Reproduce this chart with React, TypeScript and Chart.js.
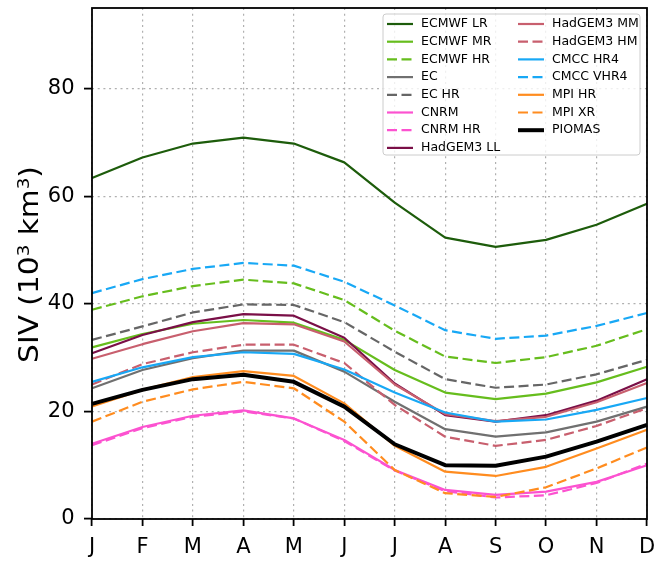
import React, { useEffect, useRef } from 'react';
import { Chart, registerables } from 'chart.js';

Chart.register(...registerables);

const months = ['J', 'F', 'M', 'A', 'M', 'J', 'J', 'A', 'S', 'O', 'N', 'D'];
const yTickValues = [0, 20, 40, 60, 80];
const yMin = 0;
const yMax = 95;

const ecmwfLR = [63.4, 67.2, 69.8, 70.9, 69.8, 66.3, 58.8, 52.3, 50.6, 51.9, 54.7, 58.6];
const ecmwfMR = [31.9, 34.4, 36.3, 37.0, 36.5, 33.3, 27.7, 23.5, 22.3, 23.3, 25.4, 28.3];
const ecmwfHR = [38.9, 41.4, 43.3, 44.5, 43.8, 40.7, 35.0, 30.2, 29.0, 30.1, 32.2, 35.3];
const ec = [24.3, 27.7, 29.9, 31.3, 31.3, 27.4, 21.8, 16.7, 15.3, 16.1, 18.1, 20.9];
const ecHR = [33.3, 35.8, 38.4, 39.9, 39.8, 36.6, 31.1, 26.0, 24.4, 25.0, 26.9, 29.6];
const cnrm = [14.0, 17.1, 19.2, 20.2, 18.7, 14.7, 9.1, 5.4, 4.5, 5.1, 6.9, 10.0];
const cnrmHR = [13.7, 16.9, 19.0, 20.0, 18.7, 14.5, 9.0, 5.2, 4.0, 4.4, 6.7, 10.3];
const hadgemLL = [30.8, 34.2, 36.6, 38.1, 37.8, 33.7, 25.2, 19.3, 18.1, 19.3, 22.0, 26.0];
const hadgemMM = [29.8, 32.5, 34.9, 36.4, 36.2, 33.0, 25.0, 19.5, 18.2, 19.0, 21.7, 25.3];
const hadgemHM = [25.0, 28.8, 31.0, 32.4, 32.4, 29.0, 21.2, 15.3, 13.6, 14.7, 17.3, 20.6];
const cmccHR4 = [25.5, 28.2, 30.1, 31.0, 30.7, 27.8, 23.5, 19.8, 18.1, 18.5, 20.3, 22.5];
const cmccVHR4 = [42.0, 44.6, 46.5, 47.6, 47.1, 44.1, 39.7, 35.1, 33.5, 34.1, 35.9, 38.3];
const mpiHR = [20.9, 24.0, 26.4, 27.5, 26.6, 21.5, 13.6, 8.8, 8.0, 9.7, 13.1, 16.6];
const mpiXR = [18.1, 21.8, 24.1, 25.5, 24.3, 18.1, 9.1, 4.8, 4.1, 5.9, 9.4, 13.3];
const piomas = [21.4, 24.0, 26.0, 26.8, 25.5, 20.9, 13.9, 10.0, 9.9, 11.6, 14.4, 17.5];

const seriesNames = [
  'ECMWF LR', 'ECMWF MR', 'ECMWF HR', 'EC', 'EC HR', 'CNRM', 'CNRM HR', 'HadGEM3 LL',
  'HadGEM3 MM', 'HadGEM3 HM', 'CMCC HR4', 'CMCC VHR4', 'MPI HR', 'MPI XR', 'PIOMAS',
];
const seriesValues = [
  ecmwfLR, ecmwfMR, ecmwfHR, ec, ecHR, cnrm, cnrmHR, hadgemLL,
  hadgemMM, hadgemHM, cmccHR4, cmccVHR4, mpiHR, mpiXR, piomas,
];

const seriesColors = [
  '#1d5c0b', '#66bd1d', '#66bd1d', '#707070', '#666666', '#fc52d0', '#fc52d0', '#7a0f47',
  '#c85f6e', '#c85f6e', '#18a8f5', '#18a8f5', '#ff8c1f', '#ff8c1f', '#000000',
];
const seriesDashed = [
  false, false, true, false, true, false, true, false,
  false, true, false, true, false, true, false,
];
const seriesWidths = [2.2, 2.2, 2.2, 2.2, 2.2, 2.2, 2.2, 2.2, 2.2, 2.2, 2.2, 2.2, 2.2, 2.2, 4];

const DASH = [10, 4.5];
const FONT = '"DejaVu Sans", sans-serif';

const extrasPlugin = {
  id: 'extras',
  afterDatasetsDraw(chart: any) {
    const { ctx, chartArea: a } = chart;
    // frame
    ctx.save();
    ctx.strokeStyle = '#000';
    ctx.lineWidth = 1.8;
    ctx.setLineDash([]);
    ctx.strokeRect(a.left, a.top, a.right - a.left, a.bottom - a.top);
    ctx.restore();

    // legend
    const ds = chart.data.datasets;
    const boxL = a.right - 264;
    const boxT = a.top + 6;
    const boxW = 257;
    const boxH = 141;
    ctx.save();
    ctx.beginPath();
    const r = 3;
    ctx.moveTo(boxL + r, boxT);
    ctx.lineTo(boxL + boxW - r, boxT);
    ctx.quadraticCurveTo(boxL + boxW, boxT, boxL + boxW, boxT + r);
    ctx.lineTo(boxL + boxW, boxT + boxH - r);
    ctx.quadraticCurveTo(boxL + boxW, boxT + boxH, boxL + boxW - r, boxT + boxH);
    ctx.lineTo(boxL + r, boxT + boxH);
    ctx.quadraticCurveTo(boxL, boxT + boxH, boxL, boxT + boxH - r);
    ctx.lineTo(boxL, boxT + r);
    ctx.quadraticCurveTo(boxL, boxT, boxL + r, boxT);
    ctx.closePath();
    ctx.fillStyle = 'rgba(255,255,255,0.8)';
    ctx.fill();
    ctx.strokeStyle = '#cccccc';
    ctx.lineWidth = 1;
    ctx.stroke();

    ctx.font = `12.5px ${FONT}`;
    ctx.textBaseline = 'middle';
    ctx.textAlign = 'left';
    const perCol = 8;
    ds.forEach((d: any, i: number) => {
      const col = i < perCol ? 0 : 1;
      const row = i < perCol ? i : i - perCol;
      const lx = boxL + 4 + col * 131;
      const ly = boxT + 10 + row * 17.7;
      ctx.beginPath();
      ctx.strokeStyle = d.borderColor;
      ctx.lineWidth = d.borderWidth;
      ctx.setLineDash(d.borderDash || []);
      ctx.moveTo(lx, ly);
      ctx.lineTo(lx + 26, ly);
      ctx.stroke();
      ctx.setLineDash([]);
      ctx.fillStyle = '#000';
      ctx.fillText(d.label, lx + 34, ly);
    });
    ctx.restore();
  },
  afterDraw(chart: any) {
    const { ctx, chartArea: a } = chart;
    ctx.save();
    const size = 26;
    const supSize = 16;
    const stretch = 1.14;
    const parts = [
      { t: 'SIV (10', sup: false },
      { t: '3', sup: true },
      { t: ' km', sup: false },
      { t: '3', sup: true },
      { t: ')', sup: false },
    ];
    const widths = parts.map((p) => {
      ctx.font = `${p.sup ? supSize : size}px ${FONT}`;
      return ctx.measureText(p.t).width;
    });
    const total = widths.reduce((s, w) => s + w, 0);
    const cy = (a.top + a.bottom) / 2 + 1;
    ctx.translate(38, cy);
    ctx.rotate(-Math.PI / 2);
    ctx.scale(stretch, 1);
    ctx.fillStyle = '#000';
    ctx.textBaseline = 'alphabetic';
    ctx.textAlign = 'left';
    let x = -total / 2;
    parts.forEach((p, i) => {
      ctx.font = `${p.sup ? supSize : size}px ${FONT}`;
      ctx.fillText(p.t, x, p.sup ? -9 : 0);
      x += widths[i];
    });
    ctx.restore();
  },
};

export default function App() {
  const ref = useRef<HTMLCanvasElement | null>(null);

  useEffect(() => {
    document.body.style.margin = '0';
    if (!ref.current) return;
    const n = seriesNames.length;
    const chart = new Chart(ref.current, {
      type: 'line',
      data: {
        labels: months,
        datasets: seriesNames.map((name, i) => ({
          label: name,
          data: seriesValues[i],
          borderColor: seriesColors[i],
          backgroundColor: seriesColors[i],
          borderWidth: seriesWidths[i],
          borderDash: seriesDashed[i] ? DASH : [],
          pointRadius: 0,
          pointHoverRadius: 0,
          tension: 0,
          fill: false,
          order: n - i,
          borderJoinStyle: 'round' as const,
        })),
      },
      options: {
        responsive: false,
        animation: false,
        events: [],
        layout: { padding: { left: 0, right: 19, top: 8, bottom: 0 } },
        plugins: {
          legend: { display: false },
          tooltip: { enabled: false },
          title: { display: false },
        },
        scales: {
          x: {
            type: 'category',
            offset: false,
            grid: {
              display: true,
              drawOnChartArea: true,
              drawTicks: true,
              color: '#b0b0b0',
              lineWidth: 1.2,
              tickLength: 7,
              tickColor: '#000',
              tickWidth: 1.8,
              tickBorderDash: [],
            },
            border: { display: false, dash: [2, 3.7] },
            ticks: {
              color: '#000',
              font: { family: FONT, size: 21 },
              padding: 9,
              maxRotation: 0,
              autoSkip: false,
            },
            afterFit: (scale: any) => {
              scale.height = 43;
              scale.paddingLeft = 0;
              scale.paddingRight = 0;
            },
          },
          y: {
            type: 'linear',
            min: yMin,
            max: yMax,
            grid: {
              display: true,
              drawOnChartArea: true,
              drawTicks: true,
              color: '#b0b0b0',
              lineWidth: 1.2,
              tickLength: 8,
              tickColor: '#000',
              tickWidth: 1.8,
              tickBorderDash: [],
            },
            border: { display: false, dash: [2, 3.7] },
            ticks: {
              color: '#000',
              font: { family: FONT, size: 21 },
              padding: 9.5,
            },
            afterBuildTicks: (scale: any) => {
              scale.ticks = yTickValues.map((v) => ({ value: v }));
            },
            afterFit: (scale: any) => {
              scale.width = 92;
              scale.paddingTop = 0;
              scale.paddingBottom = 0;
            },
          },
        },
      },
      plugins: [extrasPlugin],
    });
    return () => chart.destroy();
  }, []);

  return (
    <div style={{ width: 666, height: 562 }}>
      <canvas ref={ref} width={666} height={562} style={{ display: 'block' }} />
    </div>
  );
}
